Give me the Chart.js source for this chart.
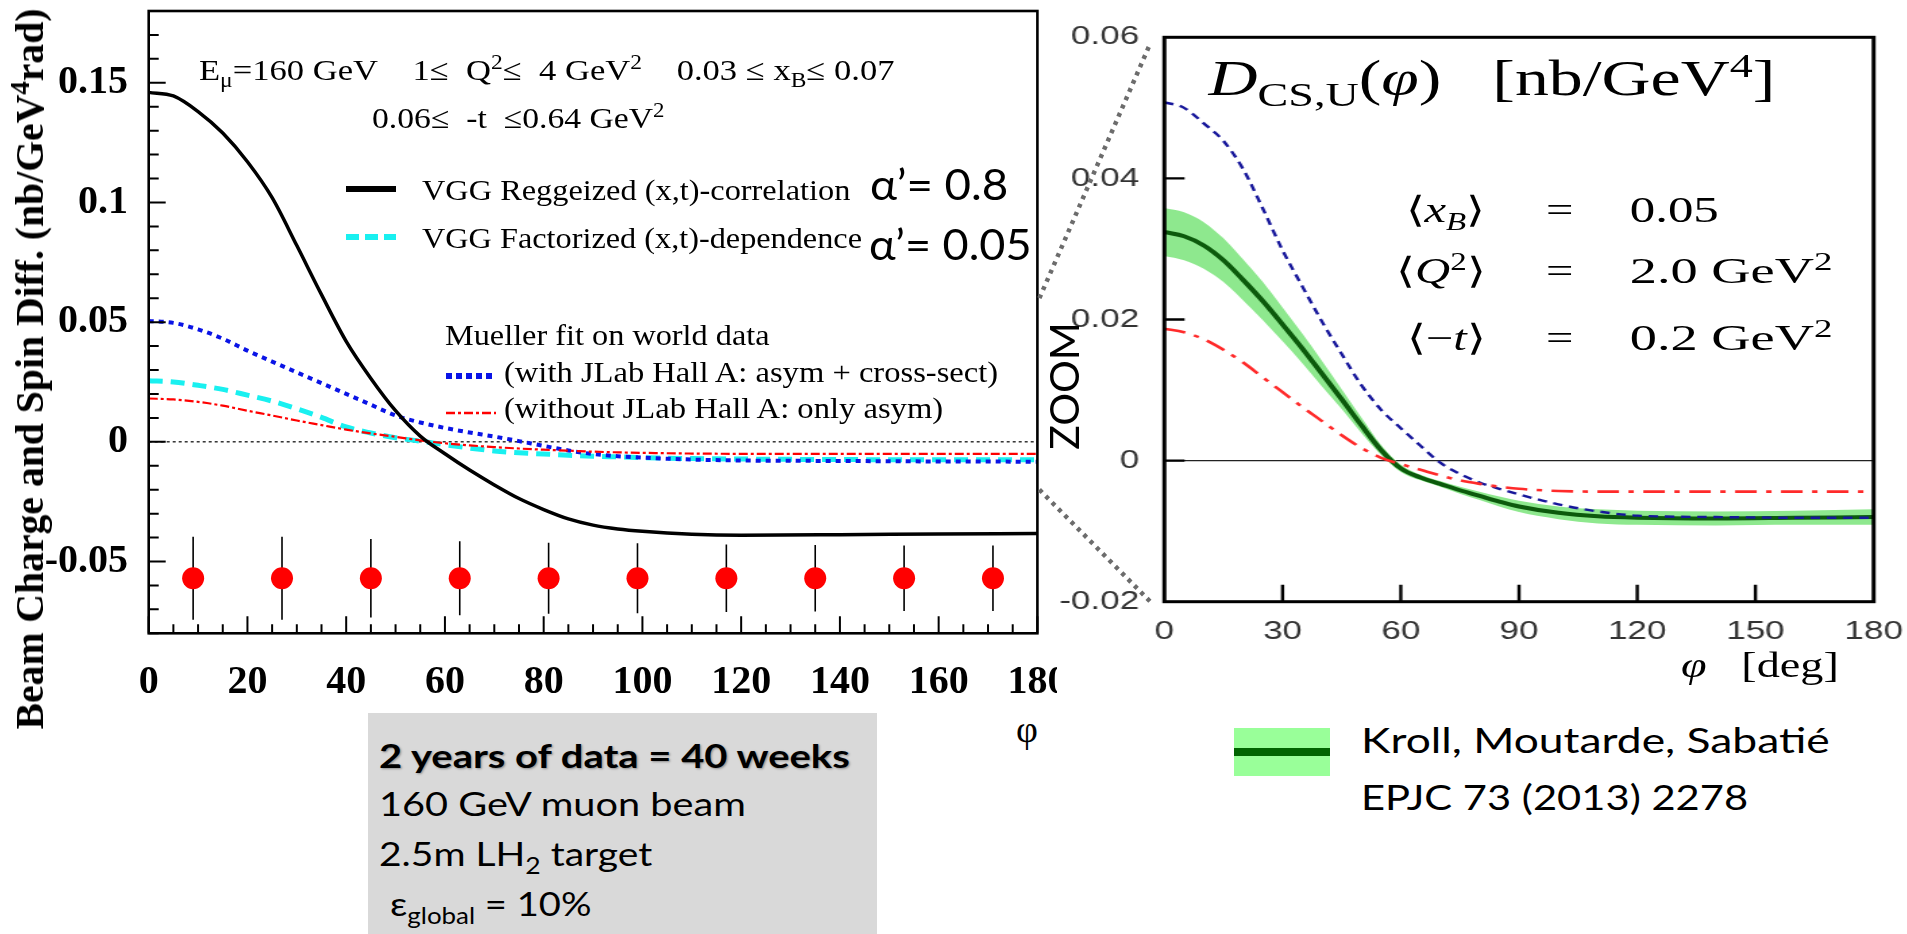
<!DOCTYPE html>
<html>
<head>
<meta charset="utf-8">
<title>Beam charge and spin difference vs phi</title>
<script src="https://cdn.jsdelivr.net/npm/chart.js@4.4.1/dist/chart.umd.min.js"></script>
<style>
  body { margin:0; width:1907px; height:934px; background:#fff; position:relative; overflow:hidden; }
  .t { position:absolute; left:0; top:0; white-space:nowrap; line-height:1; color:#000; }
  .serif { font-family:'Liberation Serif','Times New Roman',serif; }
  .sans { font-family:Lato,'Open Sans',sans-serif; }
  sub, sup { font-size:0.68em; line-height:0; }
  canvas { position:absolute; left:0; top:0; }
  #zoomPanel { position:absolute; left:1060px; top:0; width:640px; height:650px; transform:scaleX(1.35); transform-origin:0 0; }
  #infoBox { position:absolute; left:368px; top:713px; width:509px; height:221px; background:#d9d9d9; }
</style>
</head>
<body>

<canvas id="left" width="1057" height="700"></canvas>

<!-- left panel annotations -->
<div class="t serif" id="yTitle" style="left:30px;top:369px;font-size:40px;font-weight:bold">Beam Charge and Spin Diff. (nb/GeV<sup>4</sup>rad)</div>
<div class="t serif" style="font-size:30px" data-x="199" data-b="80" data-w="696">E<sub>μ</sub>=160 GeV&nbsp;&nbsp;&nbsp;&nbsp;1≤&nbsp; Q<sup>2</sup>≤&nbsp; 4 GeV<sup>2</sup>&nbsp;&nbsp;&nbsp;&nbsp;0.03 ≤ x<sub>B</sub>≤ 0.07</div>
<div class="t serif" style="font-size:30px" data-x="372" data-b="128" data-w="293">0.06≤&nbsp; -t&nbsp; ≤0.64 GeV<sup>2</sup></div>
<div class="t serif" style="font-size:30px" data-x="422" data-b="200" data-w="428">VGG Reggeized (x,t)-correlation</div>
<div class="t serif" style="font-size:30px" data-x="422" data-b="248" data-w="440">VGG Factorized (x,t)-dependence</div>
<div class="t serif" style="font-size:30px" data-x="445" data-b="345" data-w="325">Mueller fit on world data</div>
<div class="t serif" style="font-size:30px" data-x="504" data-b="382" data-w="494">(with JLab Hall A: asym + cross-sect)</div>
<div class="t serif" style="font-size:30px" data-x="504" data-b="418" data-w="439">(without JLab Hall A: only asym)</div>
<div class="t sans" style="font-size:42px" data-x="870" data-b="200" data-w="138">α’= 0.8</div>
<div class="t sans" style="font-size:42px" data-x="869" data-b="260" data-w="163">α’= 0.05</div>
<div class="t serif" style="font-size:38px" data-x="1027" data-b="742" data-a="c">φ</div>

<svg class="t" style="left:346px;top:182px" width="52" height="14"><line x1="0" y1="7" x2="50" y2="7" stroke="#000" stroke-width="6"/></svg>
<svg class="t" style="left:346px;top:230px" width="52" height="14"><line x1="0" y1="7" x2="50" y2="7" stroke="#19f0f0" stroke-width="6" stroke-dasharray="13 6"/></svg>
<svg class="t" style="left:446px;top:369px" width="52" height="14"><line x1="0" y1="7" x2="50" y2="7" stroke="#0a14e6" stroke-width="6" stroke-dasharray="6 4"/></svg>
<svg class="t" style="left:446px;top:406px" width="52" height="14"><line x1="0" y1="7" x2="50" y2="7" stroke="#f00" stroke-width="2.5" stroke-dasharray="9 3 3 3"/></svg>

<div id="infoBox"></div>
<div class="t sans" style="font-size:33px;font-weight:bold;text-shadow:1px 1px 2px rgba(0,0,0,0.35)" data-x="379" data-b="768" data-w="471">2 years of data = 40 weeks</div>
<div class="t sans" style="font-size:33px" data-x="379" data-b="816" data-w="367">160 GeV muon beam</div>
<div class="t sans" style="font-size:33px" data-x="379" data-b="866" data-w="273">2.5m LH<sub>2</sub> target</div>
<div class="t sans" style="font-size:33px" data-x="390" data-b="916" data-w="201">ε<sub>global</sub> = 10%</div>

<!-- zoomed panel, horizontally stretched like the slide -->
<div id="zoomPanel">
  <canvas id="right" width="640" height="650"></canvas>
  <div class="t serif" style="font-size:50px" data-x="110" data-b="95" data-w="420"><i>D</i><sub>CS,U</sub>(<i>φ</i>)&nbsp;&nbsp; [nb/GeV<sup>4</sup>]</div>
  <div class="t serif" style="font-size:36px" data-x="315" data-b="222" data-a="r">⟨<i>x</i><sub><i>B</i></sub>⟩</div>
  <div class="t serif" style="font-size:36px" data-x="315" data-b="283" data-a="r">⟨<i>Q</i><sup>2</sup>⟩</div>
  <div class="t serif" style="font-size:36px" data-x="315" data-b="350" data-a="r">⟨−<i>t</i>⟩</div>
  <div class="t serif" style="font-size:36px" data-x="370" data-b="222" data-a="c">=</div>
  <div class="t serif" style="font-size:36px" data-x="370" data-b="283" data-a="c">=</div>
  <div class="t serif" style="font-size:36px" data-x="370" data-b="350" data-a="c">=</div>
  <div class="t serif" style="font-size:36px" data-x="422" data-b="222" data-w="66">0.05</div>
  <div class="t serif" style="font-size:36px" data-x="422" data-b="283" data-w="150">2.0 GeV<sup>2</sup></div>
  <div class="t serif" style="font-size:36px" data-x="422" data-b="350" data-w="150">0.2 GeV<sup>2</sup></div>
  <div class="t serif" style="font-size:36px" data-x="460" data-b="677" data-w="117"><i>φ</i>&nbsp;&nbsp; [deg]</div>
</div>

<div class="t sans" style="left:1063px;top:386px;font-size:41px;transform:translate(-50%,-50%) rotate(-90deg)">ZOOM</div>

<div style="position:absolute;left:1234px;top:728px;width:96px;height:48px;background:#99ff99">
  <div style="position:absolute;left:0;top:20px;width:96px;height:8px;background:#006400"></div>
</div>
<div class="t sans" style="font-size:35px" data-x="1361" data-b="753" data-w="469">Kroll, Moutarde, Sabatié</div>
<div class="t sans" style="font-size:35px" data-x="1361" data-b="810" data-w="387">EPJC 73 (2013) 2278</div>

<canvas id="zoomLines" width="1907" height="934" style="pointer-events:none"></canvas>

<script>
// ---- left panel: phi in degrees, values in nb/GeV^4 rad ----
const phiL = [0,5,10,15,20,25,30,35,40,45,50,55,60,65,70,75,80,85,90,95,100,110,120,140,160,180];
const vggRegge     = [0.146,0.1445,0.138,0.129,0.117,0.102,0.082,0.0615,0.042,0.0265,0.013,0.0024,-0.005,-0.0118,-0.018,-0.0237,-0.0283,-0.0322,-0.0348,-0.0364,-0.0374,-0.0386,-0.039,-0.0388,-0.0385,-0.0383];
const vggFact      = [0.0255,0.025,0.0236,0.0219,0.0195,0.017,0.0138,0.0102,0.0062,0.0037,0.0017,0.0003,-0.0012,-0.0026,-0.0038,-0.0046,-0.0051,-0.0056,-0.006,-0.0063,-0.0066,-0.007,-0.0072,-0.0074,-0.0075,-0.0075];
const muellerJlab  = [0.0505,0.0497,0.047,0.0431,0.0381,0.0335,0.029,0.0245,0.02,0.0155,0.011,0.0081,0.0058,0.0039,0.0022,0.0003,-0.0017,-0.0036,-0.0051,-0.006,-0.0066,-0.0074,-0.0078,-0.008,-0.0082,-0.0083];
const muellerNoJlab= [0.0181,0.0177,0.0167,0.0151,0.013,0.011,0.0089,0.007,0.0051,0.0035,0.0021,0.0006,-0.0006,-0.0015,-0.0022,-0.0028,-0.0033,-0.0037,-0.0041,-0.0044,-0.0046,-0.0049,-0.005,-0.005,-0.005,-0.005];

// projected uncertainties, 18 degree bins
const binPhi = [9,27,45,63,81,99,117,135,153,171];
const binVal = [-0.057,-0.057,-0.057,-0.057,-0.057,-0.057,-0.057,-0.057,-0.057,-0.057];
const binErr = [0.0173,0.0173,0.0164,0.0155,0.0148,0.0146,0.0141,0.0139,0.0137,0.0137];

const xTicksL = [0,20,40,60,80,100,120,140,160,180];
const yTicksL = [-0.05,0,0.05,0.1,0.15];
const yLabelsL = ['-0.05','0','0.05','0.1','0.15'];

// ---- zoomed panel ----
const phiR = [0,5,10,15,20,25,30,35,40,45,50,55,60,65,70,75,80,85,90,100,110,120,140,160,180];
const kmsCentral = [0.0324,0.0318,0.0305,0.0284,0.0256,0.0226,0.0193,0.0159,0.0123,0.0087,0.005,0.0015,-0.0011,-0.0024,-0.0033,-0.0042,-0.005,-0.0058,-0.0065,-0.0074,-0.0079,-0.0081,-0.0082,-0.0081,-0.008];
const kmsHigh    = [0.0358,0.0352,0.0338,0.0315,0.0285,0.0253,0.0217,0.018,0.0141,0.0101,0.0061,0.0022,-0.0006,-0.002,-0.0029,-0.0037,-0.0044,-0.0051,-0.0057,-0.0065,-0.0069,-0.0071,-0.0072,-0.0071,-0.0069];
const kmsLow     = [0.029,0.0284,0.0272,0.0253,0.0227,0.0199,0.0169,0.0138,0.0105,0.0073,0.0039,0.0008,-0.0016,-0.0028,-0.0037,-0.0047,-0.0056,-0.0065,-0.0073,-0.0083,-0.0089,-0.0091,-0.0092,-0.0091,-0.0091];
const zJlab      = [0.0508,0.05,0.0478,0.0453,0.0413,0.0357,0.0298,0.0247,0.0197,0.0151,0.0107,0.0072,0.0046,0.0021,-0.0003,-0.0019,-0.0031,-0.004,-0.0048,-0.0062,-0.0072,-0.0078,-0.008,-0.0081,-0.0081];
const zNoJlab    = [0.0187,0.0182,0.0172,0.0157,0.0139,0.0118,0.0097,0.0076,0.0056,0.0036,0.0018,0.0004,-0.0005,-0.0013,-0.0021,-0.0028,-0.0033,-0.0037,-0.004,-0.0043,-0.0044,-0.0044,-0.0044,-0.0044,-0.0044];

const xTicksR = [0,30,60,90,120,150,180];
const yTicksR = [-0.02,0,0.02,0.04,0.06];
const yLabelsR = ['-0.02','0','0.02','0.04','0.06'];

const SERIF = "'Liberation Serif','Times New Roman',serif";
const SANS = "'Liberation Sans',Arial,sans-serif";
const STRETCH = 1.35;

const xy = (xs, ys) => xs.map((x, i) => ({x: x, y: ys[i]}));
const curve = (data, color, width, dash) => ({
  data: data, borderColor: color, borderWidth: width, borderDash: dash,
  pointRadius: 0, fill: false, cubicInterpolationMode: 'monotone'
});

// box around the plot plus inward tick marks
function framePlugin(o) {
  return {
    id: 'frame',
    afterDatasetsDraw(chart) {
      const {ctx, chartArea: a, scales: {x, y}} = chart;
      ctx.save();
      ctx.strokeStyle = '#000';
      ctx.lineWidth = o.tickWidth;
      ctx.beginPath();
      o.xMarks.forEach(([v, len]) => {
        const px = x.getPixelForValue(v);
        ctx.moveTo(px, a.bottom); ctx.lineTo(px, a.bottom - len);
      });
      o.yMarks.forEach(([v, len]) => {
        const py = y.getPixelForValue(v);
        ctx.moveTo(a.left, py); ctx.lineTo(a.left + len, py);
      });
      ctx.stroke();
      ctx.lineWidth = o.frameWidth;
      ctx.strokeRect(a.left, a.top, a.right - a.left, a.bottom - a.top);
      ctx.restore();
    }
  };
}

// vertical error bars under the projected points
const errorBars = {
  id: 'errorBars',
  beforeDatasetsDraw(chart) {
    const {ctx, scales: {x, y}} = chart;
    ctx.save();
    ctx.strokeStyle = '#000';
    ctx.lineWidth = 1.6;
    ctx.beginPath();
    binPhi.forEach((p, i) => {
      const px = x.getPixelForValue(p);
      ctx.moveTo(px, y.getPixelForValue(binVal[i] + binErr[i]));
      ctx.lineTo(px, y.getPixelForValue(binVal[i] - binErr[i]));
    });
    ctx.stroke();
    ctx.restore();
  }
};

const leftXMarks = [], leftYMarks = [];
for (let d = 0; d <= 180; d += 5) leftXMarks.push([d, d % 20 === 0 ? 17 : 9]);
for (let k = -8; k <= 18; k++) leftYMarks.push([k / 100, k % 5 === 0 ? 17 : 10]);

const leftChart = new Chart(document.getElementById('left'), {
  type: 'line',
  data: {
    datasets: [
      curve(xy(phiL, vggRegge), '#000', 3.5, []),
      {data: xy(binPhi, binVal), showLine: false, pointRadius: 11, pointBackgroundColor: '#ff0000', pointBorderWidth: 0},
      curve(xy(phiL, muellerNoJlab), '#ff0000', 2.2, [9, 3, 3, 3]),
      curve(xy(phiL, muellerJlab), '#0a14e6', 4, [5, 5]),
      curve(xy(phiL, vggFact), '#19f0f0', 5, [14, 8]),
      {data: [{x: 0, y: 0}, {x: 180, y: 0}], borderColor: '#000', borderWidth: 1.2, borderDash: [3, 3], pointRadius: 0}
    ]
  },
  options: {
    responsive: false, animation: false, events: [],
    layout: {padding: {top: 7.3, right: 19.6, left: 0, bottom: 0}},
    plugins: {legend: {display: false}, tooltip: {enabled: false}},
    scales: {
      x: {
        type: 'linear', min: 0, max: 180,
        grid: {display: false}, border: {display: false},
        ticks: {font: {family: SERIF, size: 40, weight: 'bold'}, color: '#000', padding: 17, autoSkip: false, maxRotation: 0},
        afterBuildTicks: s => { s.ticks = xTicksL.map(v => ({value: v})); },
        afterFit: s => { s.height = 66.7; s.paddingLeft = 0; s.paddingRight = 0; }
      },
      y: {
        min: -0.08, max: 0.18,
        grid: {display: false}, border: {display: false},
        ticks: {font: {family: SERIF, size: 40, weight: 'bold'}, color: '#000', padding: 12.7,
                callback: (v, i) => yLabelsL[i]},
        afterBuildTicks: s => { s.ticks = yTicksL.map(v => ({value: v})); },
        afterFit: s => { s.width = 148.7; s.paddingTop = 0; s.paddingBottom = 0; }
      }
    }
  },
  plugins: [errorBars, framePlugin({xMarks: leftXMarks, yMarks: leftYMarks, tickWidth: 2, frameWidth: 2.6})]
});

const rightChart = new Chart(document.getElementById('right'), {
  type: 'line',
  data: {
    datasets: [
      curve(xy(phiR, zNoJlab), '#ff2a2a', 2.6, [16, 7, 4, 7]),
      curve(xy(phiR, zJlab), '#16169a', 2.4, [7, 5]),
      curve(xy(phiR, kmsCentral), '#0c5a0c', 4, []),
      {data: xy(phiR, kmsHigh), borderColor: 'rgba(0,0,0,0)', borderWidth: 1, pointRadius: 0,
       fill: '+1', backgroundColor: '#8ee88e', cubicInterpolationMode: 'monotone'},
      {data: xy(phiR, kmsLow), borderColor: 'rgba(0,0,0,0)', borderWidth: 1, pointRadius: 0,
       fill: false, cubicInterpolationMode: 'monotone'},
      {data: [{x: 0, y: 0}, {x: 180, y: 0}], borderColor: '#222', borderWidth: 1.4, pointRadius: 0}
    ]
  },
  options: {
    responsive: false, animation: false, events: [],
    layout: {padding: {top: 37.3, right: 37.3, left: 0, bottom: 0}},
    plugins: {legend: {display: false}, tooltip: {enabled: false}},
    scales: {
      x: {
        type: 'linear', min: 0, max: 180,
        grid: {display: false}, border: {display: false},
        ticks: {font: {family: SANS, size: 26}, color: '#333', padding: 6.7, autoSkip: false, maxRotation: 0},
        afterBuildTicks: s => { s.ticks = xTicksR.map(v => ({value: v})); },
        afterFit: s => { s.height = 48.3; s.paddingLeft = 0; s.paddingRight = 0; }
      },
      y: {
        min: -0.02, max: 0.06,
        grid: {display: false}, border: {display: false},
        ticks: {font: {family: SANS, size: 26}, color: '#333', padding: 10.6,
                callback: (v, i) => yLabelsR[i]},
        afterBuildTicks: s => { s.ticks = yTicksR.map(v => ({value: v})); },
        afterFit: s => { s.width = 77.3; s.paddingTop = 0; s.paddingBottom = 0; }
      }
    }
  },
  plugins: [framePlugin({
    xMarks: [30, 60, 90, 120, 150].map(d => [d, 17]),
    yMarks: [0, 0.02, 0.04].map(v => [v, 15]),
    tickWidth: 2.4, frameWidth: 3
  })]
});

// place text by baseline, stretch to the wanted width
document.querySelectorAll('[data-x]').forEach(el => {
  const m = document.createElement('span');
  m.style.cssText = 'display:inline-block;width:0;height:0;vertical-align:baseline';
  el.appendChild(m);
  const base = m.offsetTop;
  const natural = el.offsetWidth;
  const k = el.dataset.w ? +el.dataset.w / natural : 1;
  const w = natural * k;
  const x = +el.dataset.x, a = el.dataset.a || 'l';
  el.style.left = (a === 'r' ? x - w : a === 'c' ? x - w / 2 : x) + 'px';
  el.style.top = (+el.dataset.b - base) + 'px';
  el.style.transformOrigin = '0 0';
  if (k !== 1) el.style.transform = 'scaleX(' + k + ')';
});

// rotated axis title, sized to run along the whole left edge
(function () {
  const el = document.getElementById('yTitle');
  const k = 721 / el.offsetWidth;
  el.style.transform = 'translate(-50%,-50%) rotate(-90deg) scaleX(' + k + ')';
})();

// dotted guide lines from the left plot to the zoomed axis
(function () {
  const ctx = document.getElementById('zoomLines').getContext('2d');
  const lx = leftChart.scales.x.getPixelForValue(180);
  const rx = 1060 + STRETCH * rightChart.scales.x.getPixelForValue(0) - 14;
  ctx.strokeStyle = '#6c6c6c';
  ctx.lineWidth = 4.5;
  ctx.setLineDash([4, 5]);
  ctx.beginPath();
  [0.06, -0.02].forEach(v => {
    ctx.moveTo(lx + 2, leftChart.scales.y.getPixelForValue(v));
    ctx.lineTo(rx, rightChart.scales.y.getPixelForValue(v) + (v > 0 ? 6 : 0));
  });
  ctx.stroke();
})();
</script>
</body>
</html>
